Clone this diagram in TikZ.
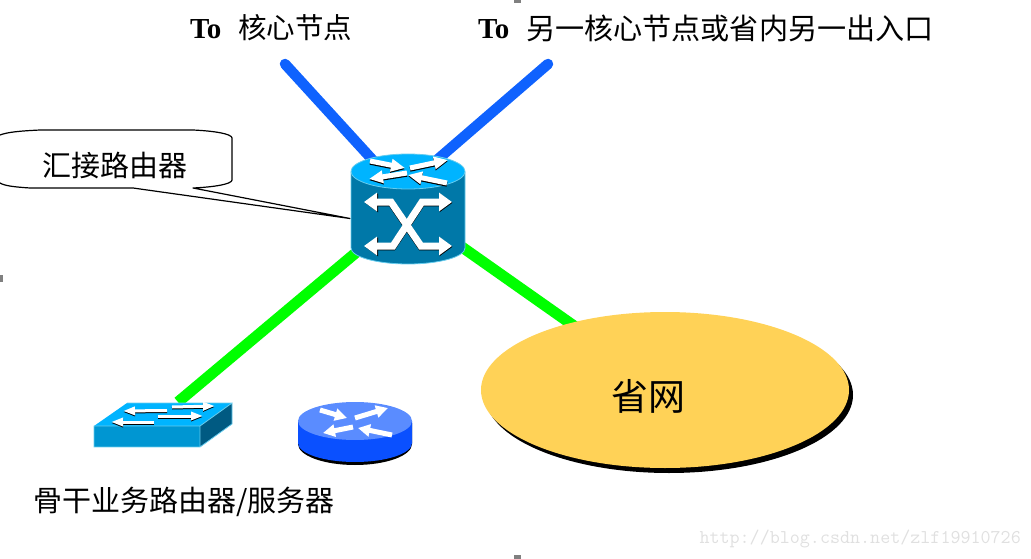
\documentclass[tikz,border=0pt]{standalone}
\usepackage{fontspec}
\setmainfont{Liberation Serif}
\newfontfamily\cjk{Noto Sans CJK SC}
\usetikzlibrary{shapes.geometric,arrows.meta}
\definecolor{linkblue}{HTML}{0F62FE}
\definecolor{linkgreen}{HTML}{00FF00}
\definecolor{cyltop}{HTML}{00B4FF}
\definecolor{cylside}{HTML}{0078A8}
\definecolor{cyledge}{HTML}{66CCEE}
\definecolor{swside}{HTML}{0096D2}
\definecolor{swdark}{HTML}{005A82}
\definecolor{rttop}{HTML}{5A8CFF}
\definecolor{rtside}{HTML}{0A50FF}
\definecolor{cloudfill}{HTML}{FFD257}
\tikzset{
  bluelink/.style={draw=linkblue,line width=10.5pt,line cap=round},
  greenlink/.style={draw=linkgreen,line width=11pt},
  label/.style={text=black,inner sep=0pt,anchor=west},
  bigdouble/.style={line width=7pt,miter limit=10,{Triangle[width=18pt,length=13pt]}-{Triangle[width=18pt,length=13pt]}},
  toparrow/.style={line width=5pt,-{Triangle[width=12pt,length=14pt]}},
  swarrow/.style={line width=3pt,-{Triangle[width=8pt,length=12pt]}},
  rtarrow/.style={draw=white,line width=5pt,-{Triangle[width=12pt,length=12pt]}},
  markbox/.style={fill=gray},
}
\begin{document}
\begin{tikzpicture}[x=1pt,y=-1pt]
\useasboundingbox (0,0) rectangle (1031,559);
% anchors
\coordinate (core1) at (285,64);
\coordinate (core2) at (548,64);
\coordinate (hubin) at (401,191);
\coordinate (hub) at (408,209);
\coordinate (sw) at (178,402);
\coordinate (prov) at (665,390);
% links
\draw[bluelink] (core1) -- (hubin);
\draw[bluelink] (core2) -- (hubin);
\draw[greenlink] (sw) -- (hub);
\draw[greenlink] (prov) -- (hub);
% callout
\draw[black,line width=1.2pt,fill=white,line join=round] (0,135) .. controls (8,132) and (20,131) .. (40,130) -- (193,130)
 .. controls (215,131) and (232,134) .. (232,138) -- (232,180) .. controls (232,184) and (215,187) .. (193,188)
 -- (350,218.5) -- (133,188) -- (30,188) .. controls (15,187) and (5,186) .. (0,183);
\node[label,font=\cjk\fontsize{29}{29}\selectfont] (hubtext) at (42,165) {汇接路由器};
% hub router
\fill[cylside] (351,172) -- (351,248) arc[start angle=180,end angle=0,x radius=57,y radius=16] -- (465,172) -- cycle;
\draw[cyledge,line width=.8pt] (351,172)--(351,248) arc[start angle=180,end angle=0,x radius=57,y radius=16] -- (465,172);
\node[ellipse,fill=cyltop,draw=cyledge,line width=.8pt,minimum width=114pt,minimum height=35pt,inner sep=0pt] (hubtop) at (408,171.5) {};
% top arrows, shadow then white
\begin{scope}[shift={(0,1.2)}]
\draw[toparrow,black] (370,161) -- (405,168);
\draw[toparrow,black] (410,168) -- (448,160);
\draw[toparrow,black] (407,173) -- (369,179);
\draw[toparrow,black] (447,183) -- (408,175);
\end{scope}
\draw[toparrow,white] (370,161) -- (405,168);
\draw[toparrow,white] (410,168) -- (448,160);
\draw[toparrow,white] (407,173) -- (369,179);
\draw[toparrow,white] (447,183) -- (408,175);
% side arrows
\draw[bigdouble,black] (365,202.8) -- (391,202.8) -- (421,246.8) -- (452.5,246.8);
\draw[bigdouble,black] (365,246.8) -- (393,246.8) -- (422,202.8) -- (452.5,202.8);
\draw[bigdouble,white] (364,202) -- (391,202) -- (421,246) -- (452,246);
\draw[bigdouble,white] (364,246) -- (393,246) -- (422,202) -- (452,202);
% switch
\fill[cyltop] (94,426) -- (127,403) -- (232,403) -- (200,426) -- cycle;
\fill[swside] (94,426) rectangle (200,447);
\fill[swdark] (200,426) -- (232,403) -- (232,424) -- (200,447) -- cycle;
\draw[cyledge,line width=.8pt] (94,426) rectangle (200,447) (200,426) -- (232,403) -- (232,424) -- (200,447) (127,403) -- (232,403);
\begin{scope}[shift={(0,1)}]
\draw[swarrow,black] (167,410.5) -- (123,411);
\draw[swarrow,black] (172,407) -- (215,406);
\draw[swarrow,black] (154,422) -- (111,422);
\draw[swarrow,black] (158,416) -- (203,416);
\end{scope}
\draw[swarrow,white] (167,410.5) -- (123,411);
\draw[swarrow,white] (172,407) -- (215,406);
\draw[swarrow,white] (154,422) -- (111,422);
\draw[swarrow,white] (158,416) -- (203,416);
% small router
\fill[black] (298,423) -- (298,444) arc[start angle=180,end angle=0,x radius=57,y radius=21] -- (412,423) -- cycle;
\fill[rtside] (298,421) -- (298,443) arc[start angle=180,end angle=0,x radius=57,y radius=19] -- (412,421) -- cycle;
\node[ellipse,fill=rttop,minimum width=114pt,minimum height=38pt,inner sep=0pt] (rttopn) at (355,421) {};
\draw[rtarrow] (320,410) -- (347,418);
\draw[rtarrow] (355,418) -- (388,408);
\draw[rtarrow] (353,427) -- (323,433);
\draw[rtarrow] (392,435) -- (358,428);
% province network
\node[ellipse,fill=black,minimum width=368pt,minimum height=156pt,inner sep=0pt] (provshadow) at (669,395) {};
\node[ellipse,fill=cloudfill,minimum width=368pt,minimum height=156pt,inner sep=0pt] (provnode) at (prov) {};
\node[font=\cjk\fontsize{37}{37}\selectfont,inner sep=0pt] (provtext) at (648,396) {省网};
% texts
\node[label,font=\bfseries\fontsize{29}{29}\selectfont] (to1) at (190,29) {To};
\node[label,font=\cjk\fontsize{28.5}{28.5}\selectfont] (t1) at (238,28) {核心节点};
\node[label,font=\bfseries\fontsize{29}{29}\selectfont] (to2) at (478,29) {To};
\node[label,font=\cjk\fontsize{29.1}{29.1}\selectfont] (t2) at (526,28) {另一核心节点或省内另一出入口};
\node[label,font=\cjk\fontsize{29}{29}\selectfont] (t3) at (33,502) {骨干业务路由器/服务器};
\node[label,font=\ttfamily\fontsize{19.5}{19.5}\selectfont,text=black!12,anchor=east] (wm) at (1021,539) {http://blog.csdn.net/zlf19910726};
% margin marks
\fill[markbox] (0,275) rectangle (3,282);
\fill[markbox] (514,555) rectangle (521,559);
\fill[markbox] (514,0) rectangle (521,3);
\end{tikzpicture}
\end{document}
